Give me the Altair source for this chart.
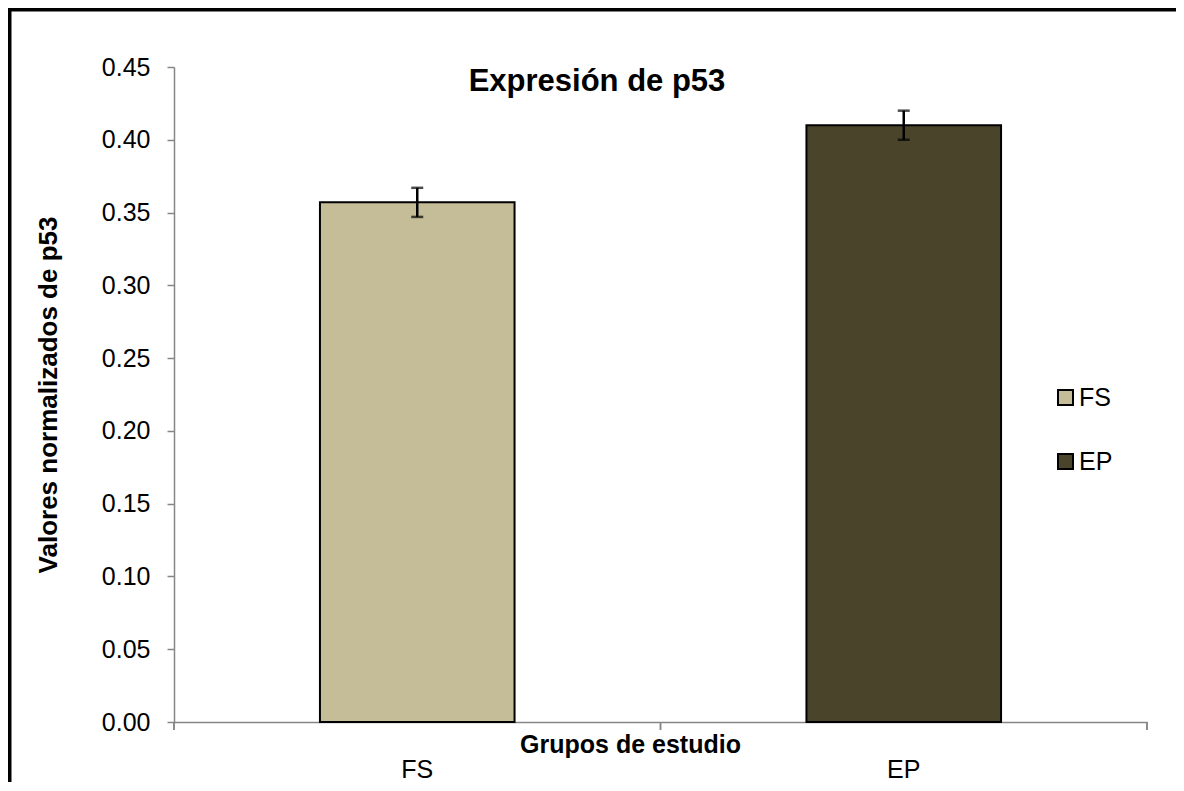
import altair as alt
import pandas as pd

grupos = ["FS", "EP"]
valores = [0.357, 0.410]
errores = [0.010, 0.010]
colores = ["#C4BD97", "#4A452A"]

df = pd.DataFrame({
    "grupo": grupos,
    "valor": valores,
    "lo": [v - e for v, e in zip(valores, errores)],
    "hi": [v + e for v, e in zip(valores, errores)],
})

W, H = 973, 655
FONT = "Liberation Sans"

xenc = alt.X(
    "grupo:N",
    sort=grupos,
    scale=alt.Scale(paddingInner=0.6, paddingOuter=0.3),
    axis=alt.Axis(
        title="Grupos de estudio",
        titleFont=FONT, titleFontSize=25, titleFontWeight="bold", titleColor="black",
        titleX=456, titleY=30, titleBaseline="alphabetic", titleAlign="center",
        labelAngle=0, labelFont=FONT, labelFontSize=25, labelColor="black",
        labelBaseline="middle", labelPadding=47,
        ticks=False, tickSize=0,
        domainColor="#868686", domainWidth=1.5,
    ),
)

yscale = alt.Scale(domain=[0, 0.45], nice=False, zero=True)

bars = alt.Chart(df).mark_bar(stroke="black", strokeWidth=2).encode(
    x=xenc,
    y=alt.Y(
        "valor:Q",
        scale=yscale,
        axis=alt.Axis(
            title="Valores normalizados de p53",
            titleFont=FONT, titleFontSize=26, titleFontWeight="bold", titleColor="black",
            titleAngle=270, titleX=-118, titleY=H / 2, titleBaseline="alphabetic",
            titleAlign="center",
            values=[0, 0.05, 0.10, 0.15, 0.20, 0.25, 0.30, 0.35, 0.40, 0.45],
            format=".2f", grid=False,
            labelFont=FONT, labelFontSize=25, labelColor="black", labelPadding=17,
            tickSize=7, tickColor="#868686", tickWidth=1.5,
            domainColor="#868686", domainWidth=1.5,
        ),
    ),
    fill=alt.Fill(
        "grupo:N",
        sort=grupos,
        scale=alt.Scale(domain=grupos, range=colores),
        legend=alt.Legend(
            title=None, orient="none", legendX=879, legendY=318,
            symbolType="square", symbolSize=225, symbolStrokeColor="black",
            symbolStrokeWidth=2, symbolOpacity=1,
            labelFont=FONT, labelFontSize=25, labelColor="black",
            labelOffset=1, rowPadding=38,
        ),
    ),
)

err_rule = alt.Chart(df).mark_rule(color="black", strokeWidth=2.5).encode(
    x=alt.X("grupo:N", sort=grupos),
    y=alt.Y("lo:Q", scale=yscale),
    y2="hi:Q",
)
err_lo = alt.Chart(df).mark_tick(color="black", thickness=2.5, size=12).encode(
    x=alt.X("grupo:N", sort=grupos),
    y=alt.Y("lo:Q", scale=yscale),
)
err_hi = alt.Chart(df).mark_tick(color="black", thickness=2.5, size=12).encode(
    x=alt.X("grupo:N", sort=grupos),
    y=alt.Y("hi:Q", scale=yscale),
)

# x-axis ticks at category boundaries
tick_pos = [0, W / 2, W]
xticks = alt.layer(*[
    alt.Chart(df).mark_rule(color="#868686", strokeWidth=1.5).encode(
        x=alt.value(p), y=alt.value(H), y2=alt.value(H + 8)
    )
    for p in tick_pos
])

title_df = pd.DataFrame({"t": ["Expresión de p53"]})
title = alt.Chart(title_df).mark_text(
    font=FONT, fontSize=31, fontWeight="bold", color="black",
    align="center", baseline="alphabetic",
).encode(text="t:N", x=alt.value(423), y=alt.value(24))

# outer frame
frame_left = alt.Chart(title_df).mark_rule(color="black", strokeWidth=4).encode(
    x=alt.value(-164.5), y=alt.value(-57.5), y2=alt.value(720)
)
frame_top = alt.Chart(title_df).mark_rule(color="black", strokeWidth=4).encode(
    x=alt.value(-166), x2=alt.value(1002), y=alt.value(-57.5)
)

chart = alt.layer(
    bars, err_rule, err_lo, err_hi, xticks, title, frame_left, frame_top
).properties(
    width=W, height=H,
    autosize=alt.AutoSizeParams(type="none"),
    padding={"left": 166, "top": 59, "right": 29, "bottom": 60},
    background="white",
).configure_view(stroke=None)

chart.save("out.html", embed_options={"renderer": "svg", "actions": False})
